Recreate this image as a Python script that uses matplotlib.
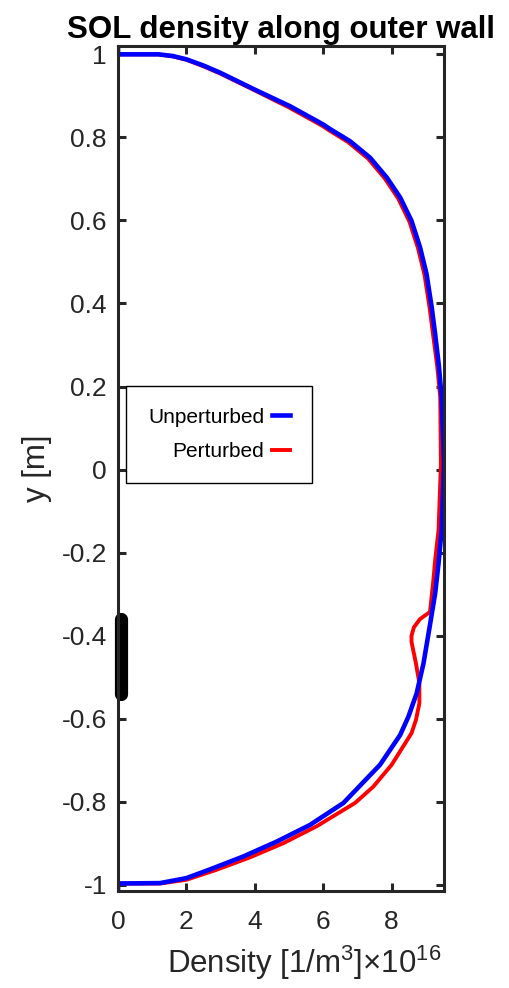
import numpy as np
import matplotlib
matplotlib.use("Agg")
import matplotlib.pyplot as plt

plt.rcParams['font.family'] = ['Liberation Sans', 'DejaVu Sans']
plt.rcParams['mathtext.fontset'] = 'custom'
plt.rcParams['mathtext.rm'] = 'Liberation Sans'
plt.rcParams['mathtext.default'] = 'regular'

# unperturbed density (x 1e16 1/m^3) along the wall, top to bottom
unpert_n = [0, 0, 1.18, 1.6, 2.0, 2.5, 2.98, 4.0, 5.03, 6.0, 6.2, 6.78, 7.37,
            7.86, 8.25, 8.58, 8.83, 9.02, 9.17, 9.27, 9.38, 9.46, 9.53, 9.46,
            9.37, 9.27, 9.11, 8.93, 8.73, 8.49, 8.25, 7.66, 6.59, 5.61, 4.64,
            3.66, 2.69, 2.0, 1.23, 0, 0]
unpert_y = [1.015, 1.0, 1.0, 0.996, 0.988, 0.973, 0.956, 0.915, 0.875, 0.831,
            0.82, 0.791, 0.751, 0.703, 0.655, 0.599, 0.535, 0.471, 0.391,
            0.327, 0.25, 0.174, 0.015, -0.146, -0.226, -0.299, -0.379, -0.467,
            -0.539, -0.595, -0.639, -0.711, -0.803, -0.856, -0.896, -0.932,
            -0.963, -0.984, -0.996, -0.997, -1.015]

pert_n = [0, 0, 1.18, 1.6, 2.0, 2.5, 2.98, 4.0, 5.0, 5.97, 6.15, 6.72, 7.31,
          7.8, 8.19, 8.52, 8.77, 8.96, 9.11, 9.21, 9.33, 9.42, 9.44, 9.37,
          9.27, 9.22, 9.12, 8.83, 8.65, 8.58, 8.58, 8.71, 8.81, 8.81, 8.71,
          8.58, 8.0, 7.46, 6.93, 5.81, 4.83, 3.86, 2.88, 2.0, 1.23, 0, 0]
pert_y = [1.015, 1.0, 1.0, 0.995, 0.987, 0.971, 0.954, 0.913, 0.872, 0.828,
          0.818, 0.789, 0.749, 0.701, 0.653, 0.597, 0.533, 0.469, 0.389,
          0.325, 0.25, 0.174, 0.014, -0.146, -0.219, -0.266, -0.343, -0.36,
          -0.38, -0.40, -0.415, -0.467, -0.515, -0.563, -0.603, -0.635,
          -0.711, -0.764, -0.803, -0.859, -0.9, -0.934, -0.964, -0.988,
          -0.997, -0.997, -1.015]

# perturbation location on the wall
pert_x = [0.1, 0.1]
pert_span = [-0.36, -0.54]

fig = plt.figure(figsize=(5.1, 9.88), dpi=100)
ax = fig.add_axes([0.2314, 0.0982, 0.6392, 0.8552])

l2, = ax.plot(pert_n, pert_y, color='red', lw=2.8, label='Perturbed')
l1, = ax.plot(unpert_n, unpert_y, color='blue', lw=3.3, label='Unperturbed')
ax.plot(pert_x, pert_span, color='black', lw=9.5, solid_capstyle='round',
        clip_on=False)

ax.set_xlim(0, 9.53)
ax.set_ylim(-1.015, 1.02)
ax.set_xticks([0, 2, 4, 6, 8])
ax.set_yticks(np.arange(-1, 1.01, 0.2))
ax.set_yticklabels(['-1', '-0.8', '-0.6', '-0.4', '-0.2', '0', '0.2', '0.4',
                    '0.6', '0.8', '1'])

dark = '#262626'
for s in ax.spines.values():
    s.set_color(dark)
    s.set_linewidth(2.2)
ax.tick_params(direction='in', length=6, width=2.2, colors=dark,
               labelsize=19, top=True, right=True)
ax.tick_params(axis='y', pad=8)
ax.tick_params(axis='x', pad=14)

ax.set_title('SOL density along outer wall', fontsize=22.5,
             fontweight='bold', pad=6)
ax.set_xlabel('Density [1/m$^{3}$]$\\times$10$^{16}$', fontsize=22.5,
              color=dark, va='top')
ax.xaxis.set_label_coords(0.57, -0.062)
ax.set_ylabel('y [m]', fontsize=22.5, color=dark)
ax.yaxis.set_label_coords(-0.2025, 0.5)

leg = ax.legend(handles=[l1, l2], loc='upper left',
                bbox_to_anchor=(0.0245, 0.598), borderaxespad=0,
                markerfirst=False, fontsize=15, handlelength=0.85,
                handletextpad=0.4, borderpad=1.05, labelspacing=0.75,
                fancybox=False, framealpha=1, edgecolor='black')
leg.get_frame().set_linewidth(1.0)

fig.savefig('out.png', dpi=100)
